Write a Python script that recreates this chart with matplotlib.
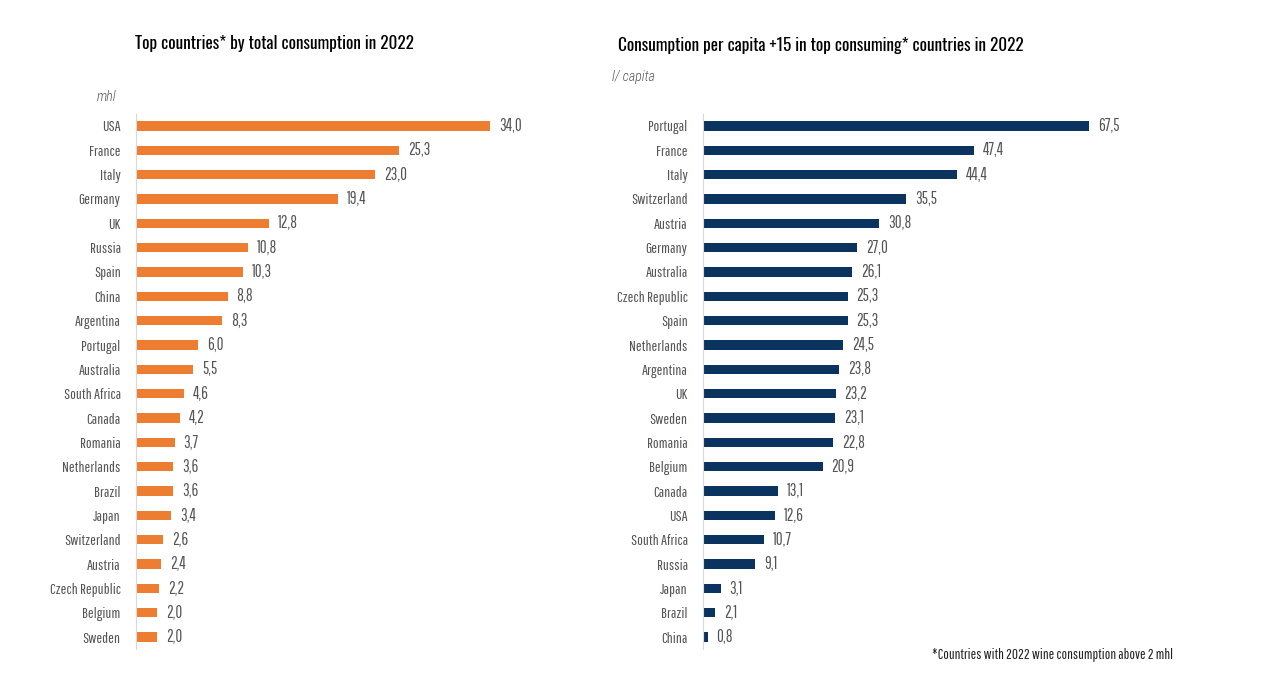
import matplotlib
matplotlib.use('Agg')
import matplotlib.pyplot as plt

total_countries = ['USA', 'France', 'Italy', 'Germany', 'UK', 'Russia', 'Spain', 'China',
                   'Argentina', 'Portugal', 'Australia', 'South Africa', 'Canada', 'Romania',
                   'Netherlands', 'Brazil', 'Japan', 'Switzerland', 'Austria', 'Czech Republic',
                   'Belgium', 'Sweden']
total_values = [34.0, 25.3, 23.0, 19.4, 12.8, 10.8, 10.3, 8.8, 8.3, 6.0, 5.5, 4.6, 4.2, 3.7,
                3.6, 3.6, 3.4, 2.6, 2.4, 2.2, 2.0, 2.0]

capita_countries = ['Portugal', 'France', 'Italy', 'Switzerland', 'Austria', 'Germany',
                    'Australia', 'Czech Republic', 'Spain', 'Netherlands', 'Argentina', 'UK',
                    'Sweden', 'Romania', 'Belgium', 'Canada', 'USA', 'South Africa', 'Russia',
                    'Japan', 'Brazil', 'China']
capita_values = [67.5, 47.4, 44.4, 35.5, 30.8, 27.0, 26.1, 25.3, 25.3, 24.5, 23.8, 23.2, 23.1,
                 22.8, 20.9, 13.1, 12.6, 10.7, 9.1, 3.1, 2.1, 0.8]

ORANGE = '#ED7D31'
NAVY = '#0B3360'
GREY = '#555555'
LABEL = dict(family='Pathway Gothic One')
UNIT = dict(family='Roboto Condensed', weight=300, style='italic')
TITLE = dict(family='Oswald', weight=400)

fig = plt.figure(figsize=(12.7, 6.75), dpi=100)


def draw(ax, names, vals, color, xmax):
    pos = list(range(len(names)))
    ax.barh(pos, vals, height=0.38, color=color)
    ax.set_ylim(len(names) - 0.5, -0.5)
    ax.set_xlim(0, xmax)
    ax.set_yticks(pos)
    ax.set_yticklabels(names, color=GREY, fontsize=11, **LABEL)
    ax.tick_params(axis='y', length=0, pad=11)
    ax.set_xticks([])
    for s in ['top', 'right', 'bottom']:
        ax.spines[s].set_visible(False)
    ax.spines['left'].set_color('#d9d9d9')
    # value labels, comma decimal like the source
    for p, v in zip(pos, vals):
        ax.text(v + xmax * 0.022, p, f'{v:.1f}'.replace('.', ','), va='center', ha='left',
                fontsize=12, color=GREY, **LABEL)


ax1 = fig.add_axes([0.1071, 0.0382, 0.315, 0.7932])
draw(ax1, total_countries, total_values, ORANGE, 400 / 10.41)

ax2 = fig.add_axes([0.5535, 0.0382, 0.315, 0.7932])
draw(ax2, capita_countries, capita_values, NAVY, 400 / 5.72)

fig.text(135 / 1270, 1 - 43 / 675, 'Top countries* by total consumption in 2022',
         fontsize=12.4, va='center', ha='left', color='black', **TITLE)
fig.text(618 / 1270, 1 - 45 / 675, 'Consumption per capita +15 in top consuming* countries in 2022',
         fontsize=12.4, va='center', ha='left', color='black', **TITLE)
fig.text(97 / 1270, 1 - 97 / 675, 'mhl', fontsize=10, color=GREY,
         va='center', ha='left', **UNIT)
fig.text(612 / 1270, 1 - 77 / 675, 'l/ capita', fontsize=10, color=GREY,
         va='center', ha='left', **UNIT)
fig.text(932 / 1270, 1 - 655 / 675, '*Countries with 2022 wine consumption above 2 mhl',
         fontsize=10.5, color='#202020', va='center', ha='left', **LABEL)

fig.savefig('out.png', dpi=100)
